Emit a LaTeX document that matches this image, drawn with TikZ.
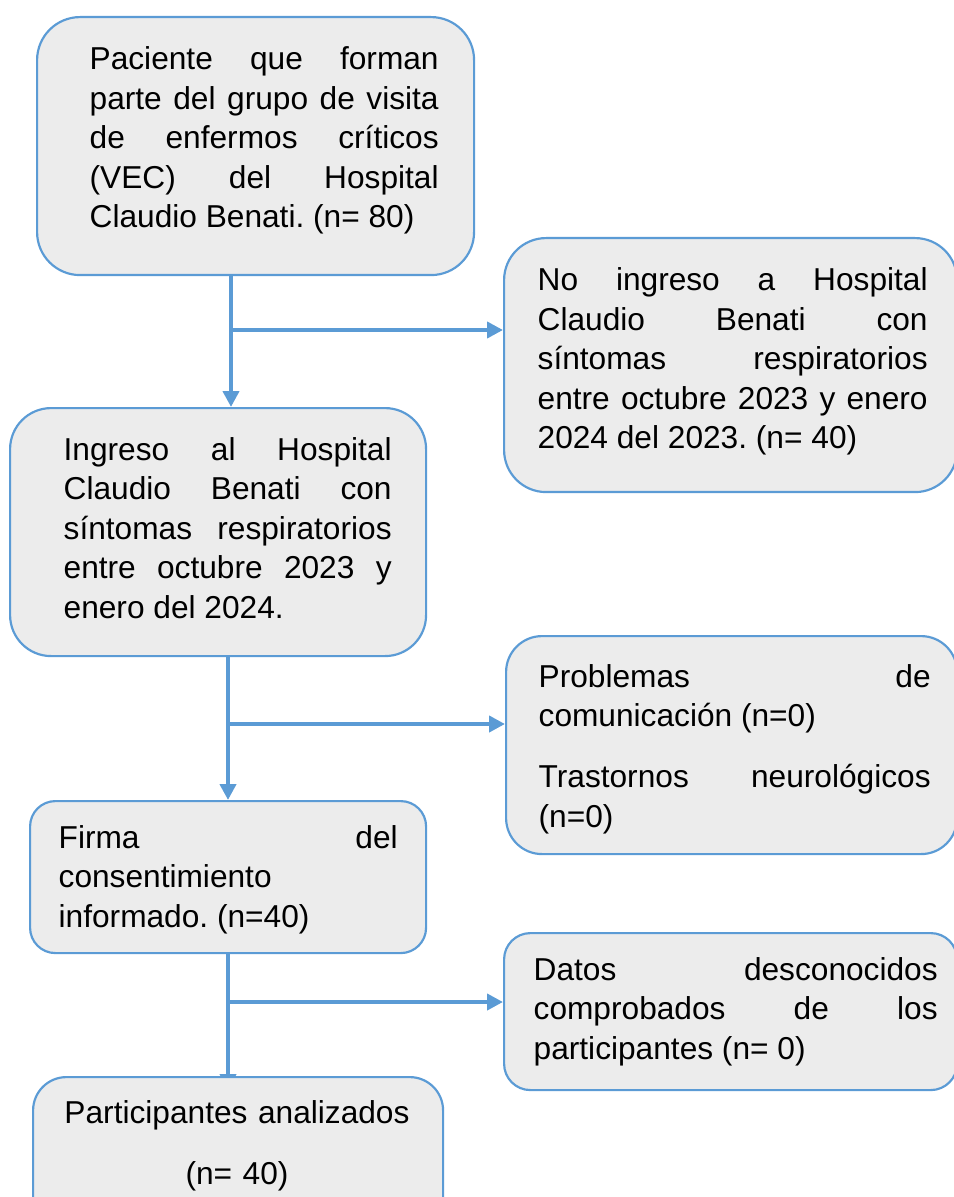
\documentclass[tikz,border=0pt]{standalone}
\usepackage{fontspec}
\setmainfont{Liberation Sans}
\usepackage{tikz}
\usetikzlibrary{arrows.meta}
\definecolor{azul}{RGB}{91,155,213}
\definecolor{gris}{RGB}{236,236,236}
\pgfdeclarelayer{fondo}
\pgfsetlayers{fondo,main}
\hyphenpenalty=10000
\exhyphenpenalty=10000
\frenchspacing
\tikzset{
	caja/.style={draw=azul, fill=gris, line width=0.65pt, anchor=north west, inner sep=0pt},
	texto/.style={anchor=base west, inner sep=0pt, align=justify, font=\fontsize{9.5}{11.85}\selectfont},
	flecha/.style={draw=azul, line width=1.35pt, -{Triangle[width=4.8pt,length=4.8pt]}}
}

\begin{document}
\begin{tikzpicture}[x=0.3pt, y=-0.3pt]
	\useasboundingbox (0,0) rectangle (954,1197);
	\node (paciente) at (36,16) [caja, minimum width=131.1pt, minimum height=77.4pt, rounded corners=12.9pt] {};
	\node (noingreso) at (503,237) [caja, minimum width=135.9pt, minimum height=76.2pt, rounded corners=12.6pt] {};
	\node (ingreso) at (9,407) [caja, minimum width=124.8pt, minimum height=74.4pt, rounded corners=12.3pt] {};
	\node (problemas) at (505,635) [caja, minimum width=135.3pt, minimum height=65.4pt, rounded corners=10.8pt] {};
	\node (firma) at (29,800) [caja, minimum width=118.8pt, minimum height=45.6pt, rounded corners=7.6pt] {};
	\node (datos) at (503,932) [caja, minimum width=135.9pt, minimum height=47.1pt, rounded corners=7.9pt] {};
	\node (analizados) at (32,1076) [caja, minimum width=123pt, minimum height=48pt, rounded corners=10pt] {};

	\node (paciente-t) at (89,70) [texto, text width=104.7pt] {Paciente que forman\linebreak parte del grupo de visita\linebreak de enfermos críticos\linebreak (VEC) del Hospital\linebreak Claudio Benati. (n= 80)};
	\node (noingreso-t) at (537,291) [texto, text width=117pt] {No ingreso a Hospital\linebreak Claudio Benati con\linebreak síntomas respiratorios\linebreak entre octubre 2023 y enero\linebreak 2024 del 2023. (n= 40)};
	\node (ingreso-t) at (63,460) [texto, text width=98.4pt] {Ingreso al Hospital\linebreak Claudio Benati con\linebreak síntomas respiratorios\linebreak entre octubre 2023 y\linebreak enero del 2024.};
	\node (problemas-t) at (538,687) [texto, text width=117.6pt] {Problemas de\linebreak comunicación (n=0)\par\vspace{6.5pt}Trastornos neurológicos\linebreak (n=0)};
	\node (firma-t) at (58,848) [texto, text width=101.7pt] {Firma del\linebreak consentimiento\linebreak informado. (n=40)};
	\node (datos-t) at (533,980) [texto, text width=121.2pt] {Datos desconocidos\linebreak comprobados de los\linebreak participantes (n= 0)};
	\node (analizados-t) at (237,1123) [texto, anchor=base, align=center, text width=115pt] {Participantes analizados\\[6.5pt](n= 40)};

	\coordinate (r1) at (231,330);
	\coordinate (r2) at (228,724);
	\coordinate (r3) at (228,1002);
	\coordinate (r4) at (228,1090);
	\begin{pgfonlayer}{fondo}
		\draw [flecha] (r1 |- paciente.south) -- (r1 |- ingreso.north);
		\draw [flecha] (r1) -- (r1 -| noingreso.west);
		\draw [flecha] (r2 |- ingreso.south) -- (r2 |- firma.north);
		\draw [flecha] (r2) -- (r2 -| problemas.west);
		\draw [flecha] (r3 |- firma.south) -- (r4);
		\draw [flecha] (r3) -- (r3 -| datos.west);
	\end{pgfonlayer}
\end{tikzpicture}
\end{document}
